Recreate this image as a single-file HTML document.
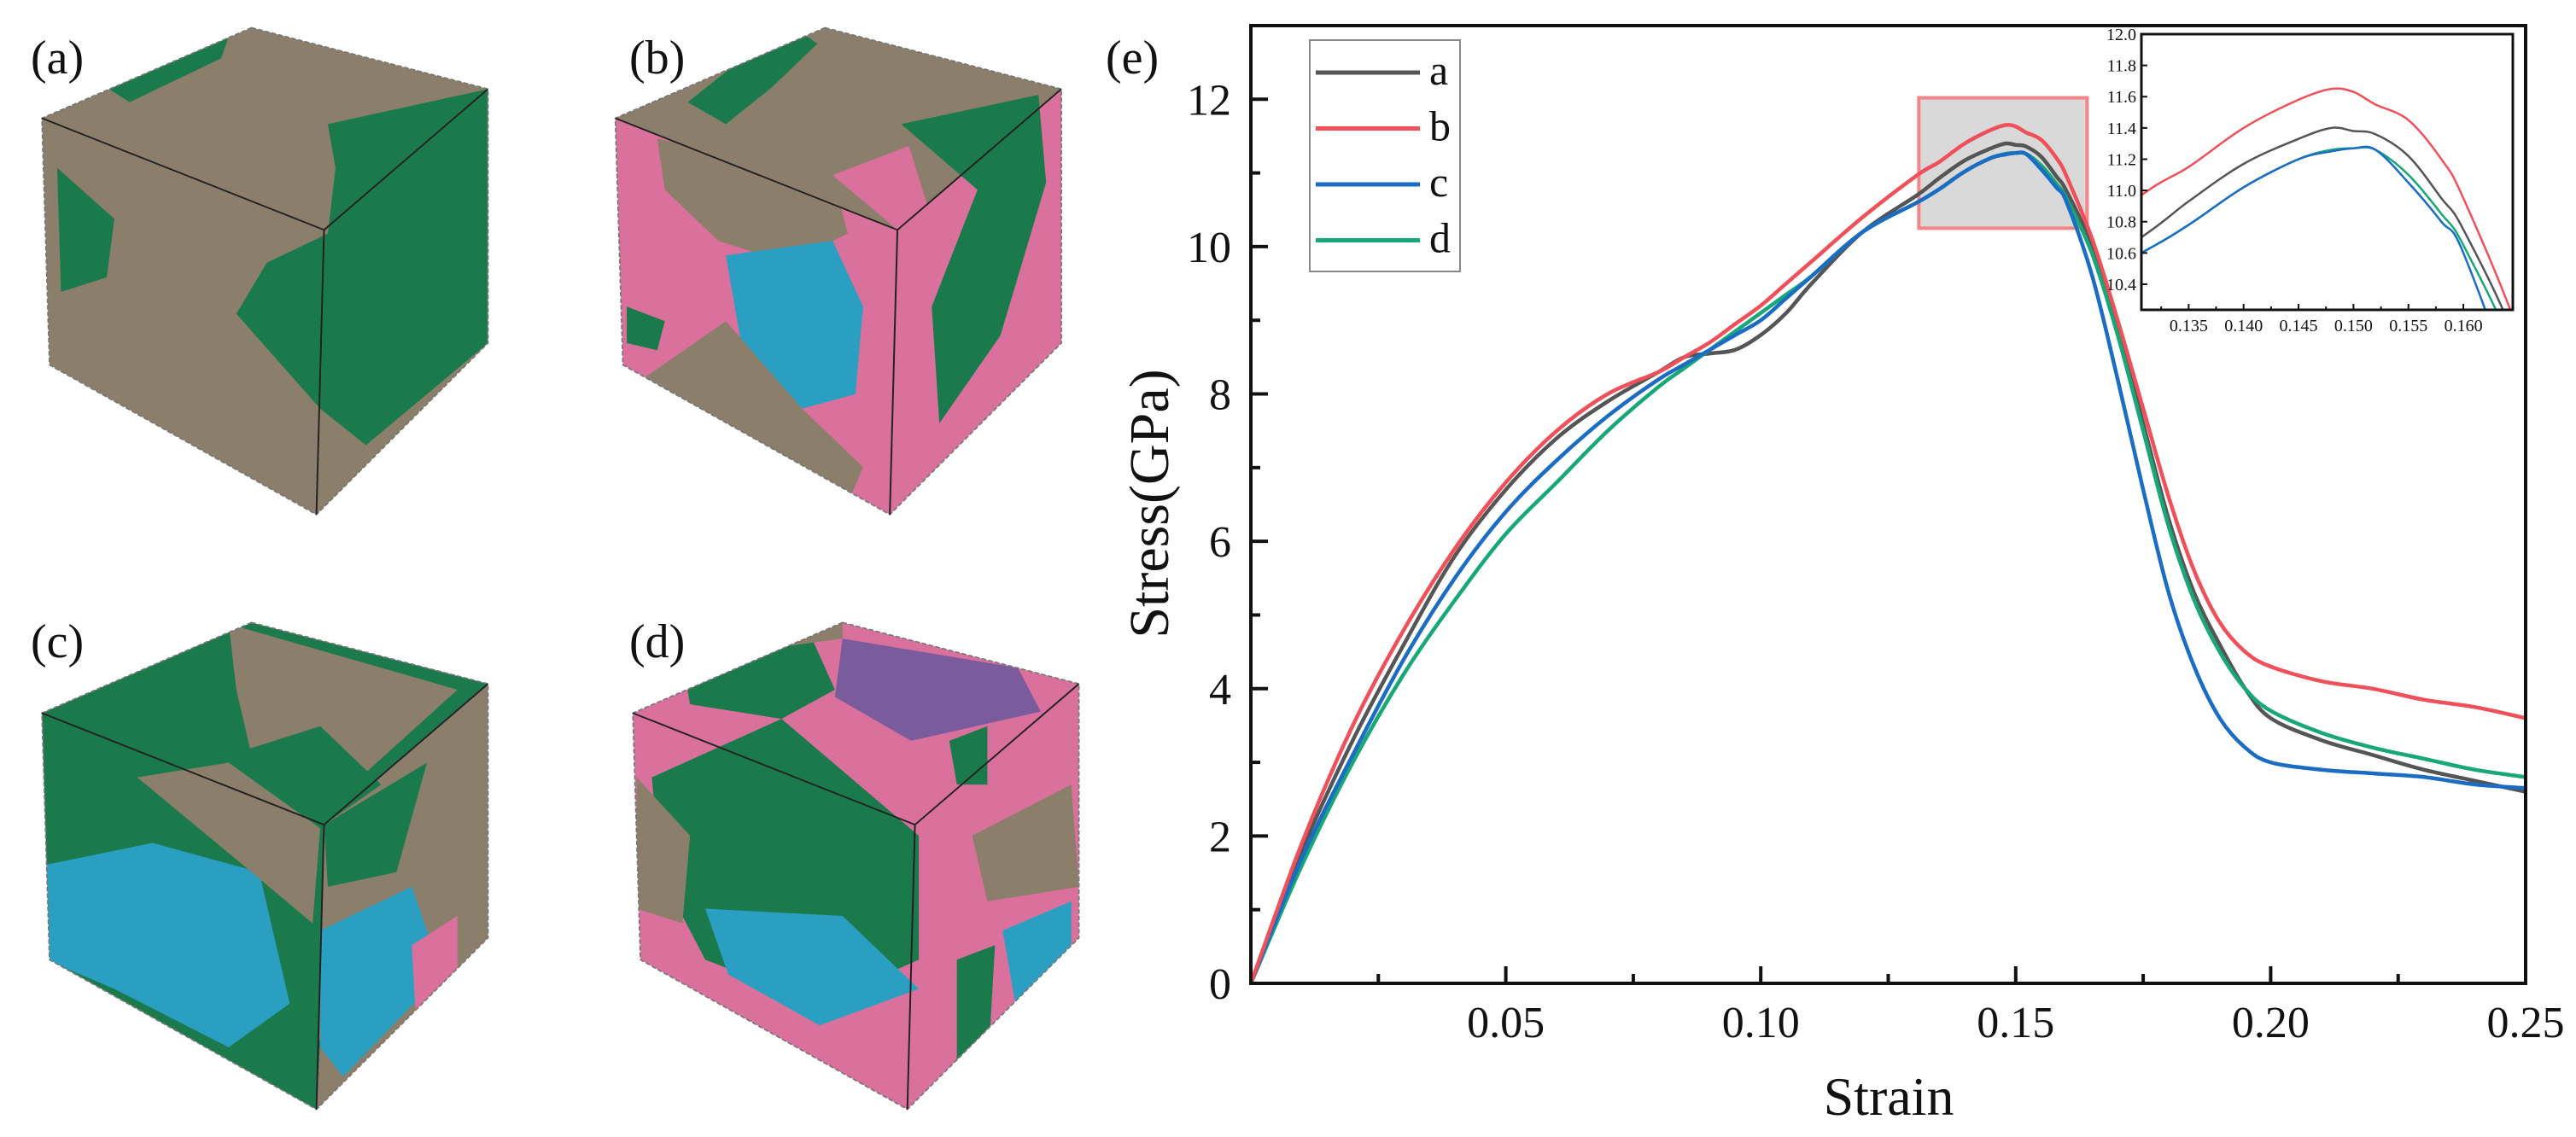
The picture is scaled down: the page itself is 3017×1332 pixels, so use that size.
<!DOCTYPE html>
<html><head><meta charset="utf-8"><style>
html,body{margin:0;padding:0;background:#fff;width:3017px;height:1332px;overflow:hidden}
svg{display:block}
text{font-family:"Liberation Serif",serif;fill:#111}
</style></head><body>
<svg id="fig" width="3017" height="1332" viewBox="0 0 3017 1332" xmlns="http://www.w3.org/2000/svg">
<g id="cubes"></g>
<g font-size="56">
<text x="36" y="86">(a)</text>
<text x="737" y="86">(b)</text>
<text x="36" y="770">(c)</text>
<text x="737" y="770">(d)</text>
<text x="1295" y="86">(e)</text>
</g>
<g id="chart"></g>
</svg>
<script>
// ---- chart data ----
const strain = [0,0.01,0.02,0.03,0.04,0.05,0.06,0.07,0.08,0.085,0.09,0.095,0.10,0.105,0.11,0.12,0.1307,0.135,0.14,0.145,0.148,0.15,0.152,0.155,0.158,0.16,0.165,0.17,0.175,0.18,0.185,0.19,0.195,0.20,0.21,0.22,0.23,0.24,0.25];
const stressA = [0,1.8,3.3,4.6,5.8,6.7,7.4,7.9,8.3,8.5,8.55,8.6,8.8,9.1,9.5,10.2,10.7,10.93,11.17,11.33,11.4,11.38,11.36,11.22,10.95,10.75,10.0,8.9,7.6,6.3,5.3,4.6,4.0,3.6,3.3,3.1,2.9,2.75,2.6];
const stressB = [0,1.9,3.5,4.8,5.9,6.8,7.5,8.0,8.3,8.5,8.7,8.95,9.2,9.5,9.8,10.4,10.97,11.15,11.4,11.58,11.65,11.63,11.55,11.45,11.2,10.95,10.1,9.0,7.8,6.6,5.6,4.9,4.5,4.3,4.1,4.0,3.85,3.75,3.6];
const stressC = [0,1.7,3.1,4.4,5.5,6.4,7.1,7.7,8.2,8.4,8.6,8.8,9.0,9.3,9.6,10.2,10.6,10.78,11.02,11.2,11.25,11.27,11.26,11.05,10.8,10.6,9.6,8.2,6.7,5.3,4.3,3.6,3.2,3.0,2.9,2.85,2.8,2.7,2.65];
const stressD = [0,1.6,3.0,4.2,5.2,6.1,6.8,7.5,8.1,8.35,8.6,8.85,9.1,9.35,9.6,10.2,10.6,10.78,11.02,11.2,11.26,11.27,11.26,11.1,10.85,10.65,9.9,8.8,7.5,6.2,5.2,4.5,4.0,3.7,3.4,3.2,3.05,2.9,2.8];
const seriesNames = ["a","b","c","d"];
const xTickLabels = ["0.05","0.10","0.15","0.20","0.25"];
const yTickLabels = ["0","2","4","6","8","10","12"];
const insetXTickLabels = ["0.135","0.140","0.145","0.150","0.155","0.160"];
const insetYTickLabels = ["10.4","10.6","10.8","11.0","11.2","11.4","11.6","11.8","12.0"];
const zoomBox = [0.131,0.164,10.25,12.02];

const NS="http://www.w3.org/2000/svg";
function mk(tag,attrs,parent){const e=document.createElementNS(NS,tag);for(const k in attrs)e.setAttribute(k,attrs[k]);parent.appendChild(e);return e;}
const colors=["#555555","#f0505a","#1a6cc4","#18a878"];
const allSeries=[stressA,stressB,stressC,stressD];
const chart=document.getElementById('chart');

const L=1465,R=2958,T=30,B=1152;
const xs=v=>L+(v/0.25)*(R-L);
const ys=v=>B-(v/13)*(B-T);

const zb=mk('rect',{x:xs(zoomBox[0]),y:ys(zoomBox[3]),width:xs(zoomBox[1])-xs(zoomBox[0]),height:ys(zoomBox[2])-ys(zoomBox[3]),fill:"#d9d9d9",stroke:"#f4868a","stroke-width":4},chart);



function pathFor(xf,yf,vals){
  const P=strain.map((s,i)=>[xf(s),yf(vals[i])]);
  let d="M"+P[0][0].toFixed(1)+","+P[0][1].toFixed(1);
  for(let i=0;i<P.length-1;i++){
    const p0=P[Math.max(0,i-1)],p1=P[i],p2=P[i+1],p3=P[Math.min(P.length-1,i+2)];
    const c1=[p1[0]+(p2[0]-p0[0])/6,p1[1]+(p2[1]-p0[1])/6];
    const c2=[p2[0]-(p3[0]-p1[0])/6,p2[1]-(p3[1]-p1[1])/6];
    d+="C"+c1[0].toFixed(1)+","+c1[1].toFixed(1)+" "+c2[0].toFixed(1)+","+c2[1].toFixed(1)+" "+p2[0].toFixed(1)+","+p2[1].toFixed(1);
  }
  return d;
}
[0,3,2,1].forEach(i=>{
  const p=mk('path',{d:pathFor(xs,ys,allSeries[i]),fill:"none",stroke:colors[i],"stroke-width":4.5,"stroke-linejoin":"round"},chart);
  
  
});

const fr=mk('rect',{x:L,y:T,width:R-L,height:B-T,fill:"none",stroke:"#111","stroke-width":4},chart);



for(let k=1;k<=10;k++){const v=k*0.025;const major=k%2===0;
  mk('line',{x1:xs(v),x2:xs(v),y1:B,y2:B-(major?20:11),stroke:"#111","stroke-width":4},chart);}
xTickLabels.forEach(s=>{const t=mk('text',{x:xs(parseFloat(s)),y:1215,"font-size":52,"text-anchor":"middle"},chart);t.textContent=s;
  
  });
for(let k=1;k<=12;k++){const major=k%2===0;
  mk('line',{x1:L,x2:L+(major?20:11),y1:ys(k),y2:ys(k),stroke:"#111","stroke-width":4},chart);}
yTickLabels.forEach(s=>{const t=mk('text',{x:1442,y:ys(parseFloat(s))+18,"font-size":52,"text-anchor":"end"},chart);t.textContent=s;
  
  });
const xt=mk('text',{x:2212,y:1306,"font-size":64,"text-anchor":"middle"},chart);xt.textContent="Strain";


const yt=mk('text',{x:0,y:0,"font-size":66,"text-anchor":"middle",transform:"translate(1368,590) rotate(-90)"},chart);yt.textContent="Stress(GPa)";



const lg=mk('g',{},chart);


mk('rect',{x:1534,y:47,width:176,height:271,fill:"#fff",stroke:"#888","stroke-width":2},lg);
seriesNames.forEach((n,i)=>{const y=85+i*65.5;
  const e=mk('g',{},lg);
  
  
  mk('line',{x1:1541,x2:1663,y1:y,y2:y,stroke:colors[i],"stroke-width":5},e);
  const t=mk('text',{x:1674,y:y+14,"font-size":50},e);t.textContent=n;});

const iL=2508,iR=2943,iT=40,iB=363;
const ix=v=>iL+(v-0.1307)/(0.1645-0.1307)*(iR-iL);
const iy=v=>iB-(v-10.236)/(12.0-10.236)*(iB-iT);
const ig=mk('g',{},chart);


mk('rect',{x:iL,y:iT,width:iR-iL,height:iB-iT,fill:"#fff"},ig);
mk('clipPath',{id:"ic"},ig);
mk('rect',{x:iL,y:iT,width:iR-iL,height:iB-iT},document.getElementById('ic'));
const icg=mk('g',{"clip-path":"url(#ic)"},ig);
[0,3,2,1].forEach(i=>{
  const p=mk('path',{d:pathFor(ix,iy,allSeries[i]),fill:"none",stroke:colors[i],"stroke-width":2.5},icg);
  
  
});
mk('rect',{x:iL,y:iT,width:iR-iL,height:iB-iT,fill:"none",stroke:"#111","stroke-width":3},ig);
for(let k=0;k<12;k++){const v=0.1325+k*0.0025;const major=k%2===1;
  mk('line',{x1:ix(v),x2:ix(v),y1:iB,y2:iB-(major?7:4),stroke:"#111","stroke-width":2},ig);}
insetXTickLabels.forEach(s=>{const t=mk('text',{x:ix(parseFloat(s)),y:iB+25,"font-size":20,"text-anchor":"middle"},ig);t.textContent=s;
  
  });
insetYTickLabels.forEach(s=>{const v=parseFloat(s);
  mk('line',{x1:iL,x2:iL+7,y1:iy(v),y2:iy(v),stroke:"#111","stroke-width":2},ig);
  const t=mk('text',{x:iL-6,y:iy(v)+7,"font-size":20,"text-anchor":"end"},ig);t.textContent=s;
  
  });

// ---- cubes (illustrations) ----
const cubes=document.getElementById('cubes');
const C={br:"#8b7e6a",gr:"#1b7a4c",pk:"#d9719c",cy:"#2a9fc2",pu:"#7a5c9c"};
const faceTop="330,38 640,122 425,315 55,162", faceLeft="55,162 425,315 415,705 65,500", faceRight="425,315 640,122 640,470 415,705";
const cubeDefs=[
 {name:"cube-a",dx:0,dy:0,base:[C.br,C.br,C.br],blobs:[
  [C.gr,"140,120 230,60 300,50 290,80 230,110 170,140"],
  [C.gr,"430,170 640,122 640,470 480,610 420,560 310,430 350,360 430,320 440,230"],
  [C.gr,"75,230 150,300 140,380 80,400"]]},
 {name:"cube-b",dx:752,dy:0,base:[C.br,C.pk,C.pk],blobs:[
  [C.gr,"150,140 210,90 300,45 320,60 260,120 200,170"],
  [C.br,"110,190 340,240 360,320 280,360 190,330 120,260"],
  [C.cy,"200,350 340,330 380,420 370,540 300,560 220,470"],
  [C.br,"90,520 200,440 300,560 380,640 360,690 150,600"],
  [C.pk,"340,240 440,200 470,300 425,315"],
  [C.gr,"430,170 610,130 620,250 560,460 480,580 470,420 530,260"],
  [C.gr,"70,420 120,440 110,480 70,470"]]},
 {name:"cube-c",dx:0,dy:815,base:[C.gr,C.gr,C.br],blobs:[
  [C.br,"300,40 600,130 420,300 330,220 310,130"],
  [C.gr,"300,220 420,180 500,260 425,315"],
  [C.cy,"60,370 200,340 340,380 380,560 300,620 150,540 60,500"],
  [C.br,"180,250 300,230 420,320 410,450 330,380"],
  [C.cy,"420,460 540,400 580,520 450,660 420,620"],
  [C.gr,"425,315 560,230 520,380 430,400"],
  [C.pk,"540,480 600,440 600,560 545,570"],
  [C.gr,"65,600 160,560 250,640 200,680 80,640"],
  [C.gr,"330,650 420,610 415,705"]]},
 {name:"cube-d",dx:775,dy:815,base:[C.pk,C.pk,C.pk],blobs:[
  [C.gr,"120,90 290,60 320,130 250,170 130,150"],
  [C.pu,"330,60 560,100 590,160 420,200 320,140"],
  [C.br,"220,40 330,30 330,60 260,70"],
  [C.gr,"80,250 250,170 430,330 430,500 300,560 150,500 90,380"],
  [C.cy,"150,430 330,440 430,540 300,590 180,520"],
  [C.br,"60,250 130,330 120,450 60,430"],
  [C.br,"500,330 630,260 640,400 520,420"],
  [C.cy,"540,460 630,420 630,560 560,580"],
  [C.gr,"480,500 530,480 520,660 480,680"],
  [C.gr,"470,200 520,180 520,260 480,260"]]}
];
cubeDefs.forEach(cd=>{
  const g=mk('g',{transform:`scale(0.893,0.855) translate(${cd.dx},${cd.dy})`},cubes);
  
  
  const cp=mk('clipPath',{id:"cp-"+cd.name},g);
  mk('polygon',{points:"330,38 640,122 640,470 415,705 65,500 55,162"},cp);
  mk('polygon',{points:faceTop,fill:cd.base[0]},g);
  mk('polygon',{points:faceLeft,fill:cd.base[1]},g);
  mk('polygon',{points:faceRight,fill:cd.base[2]},g);
  const bg=mk('g',{"clip-path":`url(#cp-${cd.name})`},g);
  cd.blobs.forEach(b=>mk('polygon',{points:b[1],fill:b[0]},bg));
  mk('polygon',{points:"330,38 640,122 640,470 415,705 65,500 55,162",fill:"none",stroke:"#777","stroke-width":2,"stroke-dasharray":"6,3"},g);
  mk('polyline',{points:"55,162 425,315 640,122",fill:"none",stroke:"#222","stroke-width":2.2},g);
  mk('line',{x1:425,y1:315,x2:415,y2:705,stroke:"#222","stroke-width":2.2},g);
});
</script>
</body></html>
